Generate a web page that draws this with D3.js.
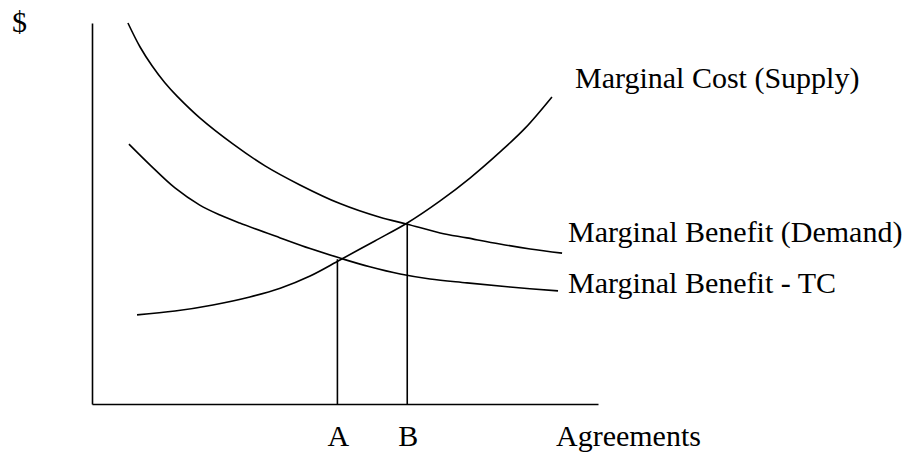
<!DOCTYPE html>
<html>
<head>
<meta charset="utf-8">
<script src="https://cdn.jsdelivr.net/npm/d3@7"></script>
<style>
  body { margin: 0; background: #fff; }
  text { font-family: "Liberation Serif", "Times New Roman", serif; font-size: 30px; fill: #000; }
</style>
</head>
<body>
<script>
// curve points, in abstract units (quantity 0-10, $ 0-10)
var mbDemandX = [0.71, 0.95, 1.19, 1.44, 1.68, 2.13, 2.79, 3.42, 4.11, 4.90, 5.69, 6.23, 6.88, 7.41, 8.06, 8.66, 9.29];
var mbDemandY = [10.0, 9.37, 8.87, 8.43, 8.08, 7.51, 6.82, 6.25, 5.75, 5.26, 4.90, 4.72, 4.49, 4.36, 4.20, 4.07, 3.96];

var mbTcX = [0.73, 1.15, 1.64, 2.13, 2.53, 2.92, 3.72, 4.31, 4.90, 5.49, 6.09, 6.68, 7.41, 8.26, 9.21];
var mbTcY = [6.82, 6.27, 5.67, 5.22, 4.96, 4.75, 4.36, 4.08, 3.83, 3.60, 3.41, 3.28, 3.18, 3.07, 2.97];

var mcX = [0.89, 1.64, 2.39, 3.12, 3.72, 4.31, 4.90, 5.59, 6.23, 6.88, 7.47, 8.06, 8.56, 9.09];
var mcY = [2.34, 2.44, 2.60, 2.81, 3.04, 3.36, 3.78, 4.28, 4.75, 5.33, 5.93, 6.61, 7.24, 8.06];

// equilibrium quantities and the height where each meets MC
var eqNames = ["A", "B"];
var eqX = [4.85, 6.23];
var eqY = [3.80, 4.75];

var curveNames = ["Marginal Cost (Supply)", "Marginal Benefit (Demand)", "Marginal Benefit - TC"];
var yLabel = "$";
var xLabel = "Agreements";

var width = 903, height = 453;
var margin = {top: 23, right: 305, bottom: 49, left: 92};

var xScale = d3.scaleLinear().domain([0, 10]).range([margin.left, width - margin.right]);
var yScale = d3.scaleLinear().domain([0, 10]).range([height - margin.bottom, margin.top]);

var svg = d3.select("body")
            .append("svg")
            .attr("width", width)
            .attr("height", height);

// axes, no ticks
svg.append("g")
   .attr("transform", `translate(0, ${yScale(0)})`)
   .call(d3.axisBottom(xScale).tickValues([]).tickSizeOuter(0))
   .select(".domain").attr("stroke-width", 1.6);

svg.append("g")
   .attr("transform", `translate(${xScale(0)}, 0)`)
   .call(d3.axisLeft(yScale).tickValues([]).tickSizeOuter(0))
   .select(".domain").attr("stroke-width", 1.6);

var line_plot = d3.line()
                  .x(function(d) {return xScale(d[0]);})
                  .y(function(d) {return yScale(d[1]);})
                  .curve(d3.curveCatmullRom.alpha(0.5));

var curves = [
  d3.zip(mcX, mcY),
  d3.zip(mbDemandX, mbDemandY),
  d3.zip(mbTcX, mbTcY)
];

svg.selectAll(".curve")
   .data(curves)
   .enter()
   .append("path")
   .attr("class", "curve")
   .attr("fill", "none")
   .attr("stroke", "black")
   .attr("stroke-width", 1.6)
   .attr("d", line_plot);

// curve labels, placed off the end of each curve
var labelOffset = [[23, -9], [6, -11], [10, 2]];
svg.selectAll(".clabel")
   .data(curves)
   .enter()
   .append("text")
   .attr("class", "clabel")
   .attr("x", function(d, i) {return xScale(d[d.length - 1][0]) + labelOffset[i][0];})
   .attr("y", function(d, i) {return yScale(d[d.length - 1][1]) + labelOffset[i][1];})
   .text(function(d, i) {return curveNames[i];});

// drop lines to A and B
svg.selectAll(".drop")
   .data(eqX)
   .enter()
   .append("line")
   .attr("class", "drop")
   .attr("stroke", "black")
   .attr("stroke-width", 1.6)
   .attr("x1", function(d) {return xScale(d);})
   .attr("x2", function(d) {return xScale(d);})
   .attr("y1", yScale(0))
   .attr("y2", function(d, i) {return yScale(eqY[i]);});

svg.selectAll(".eq")
   .data(eqX)
   .enter()
   .append("text")
   .attr("class", "eq")
   .attr("x", function(d) {return xScale(d) + 1;})
   .attr("y", yScale(0) + 42)
   .style("text-anchor", "middle")
   .text(function(d, i) {return eqNames[i];});

// axis labels
svg.append("text")
   .attr("x", 12)
   .attr("y", 32)
   .text(yLabel);

svg.append("text")
   .attr("x", 556)
   .attr("y", yScale(0) + 42)
   .text(xLabel);
</script>
</body>
</html>
